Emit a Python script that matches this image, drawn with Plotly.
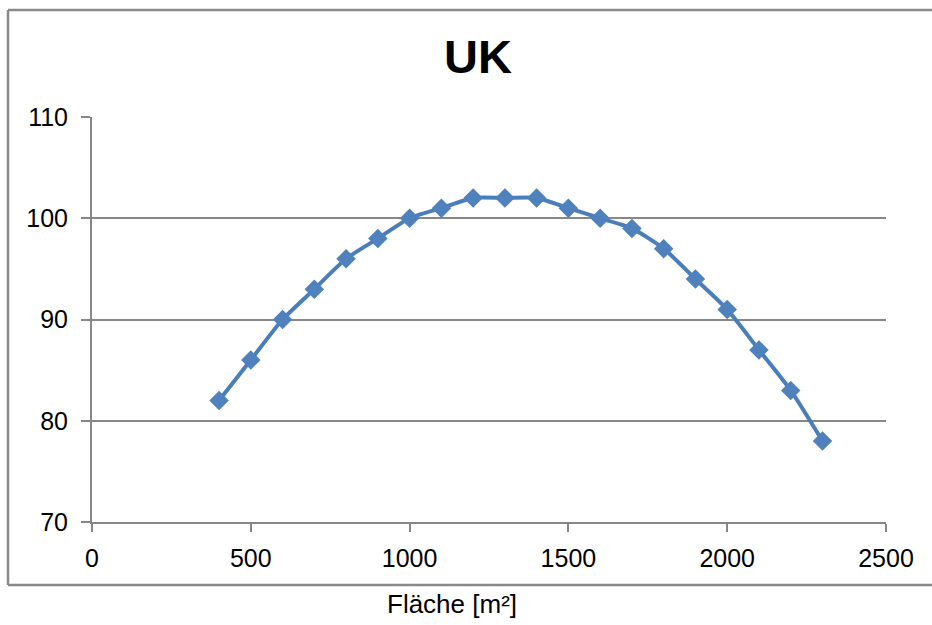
import plotly.graph_objects as go

# Data
flaeche = [400, 500, 600, 700, 800, 900, 1000, 1100, 1200, 1300,
           1400, 1500, 1600, 1700, 1800, 1900, 2000, 2100, 2200, 2300]
uk_werte = [82, 86, 90, 93, 96, 98, 100, 101, 102, 102,
            102, 101, 100, 99, 97, 94, 91, 87, 83, 78]
x_ticks = [0, 500, 1000, 1500, 2000, 2500]
y_ticks = [70, 80, 90, 100, 110]
title_text = "UK"
x_title = "Fläche [m²]"

W, H = 932, 625
L, R, T, B = 92, 886, 117, 522  # plot area in pixels
pw, ph = R - L, B - T

def px(x):
    return (x - L) / pw

def py(y):
    return (B - y) / ph

FONT = "Liberation Sans, Arial, sans-serif"
GRAY = "#878787"
BLUE = "#4A7EBB"
BORDER = dict(color="#8a8a8a", width=2.5)

fig = go.Figure()
fig.add_trace(go.Scatter(
    x=flaeche, y=uk_werte, mode="lines+markers",
    line=dict(color=BLUE, width=4, shape="spline", smoothing=0.6),
    marker=dict(symbol="diamond", size=15, color="#4F81BD",
                line=dict(color=BLUE, width=0)),
    showlegend=False,
))

fig.update_layout(
    width=W, height=H,
    margin=dict(l=L, r=W - R, t=T, b=H - B),
    paper_bgcolor="white", plot_bgcolor="white",
    font=dict(family=FONT, color="black", size=25),
    title=dict(text="<b>" + title_text + "</b>", x=478 / W, xref="container",
               y=1 - 57 / H, yref="container", xanchor="center", yanchor="middle",
               font=dict(family=FONT, size=47, color="black")),
    xaxis=dict(range=[0, 2500], tickvals=x_ticks, showgrid=False, zeroline=False,
               showline=True, linecolor=GRAY, linewidth=2,
               ticks="outside", ticklen=8, tickwidth=2, tickcolor=GRAY,
               tickfont=dict(size=25), ticklabelstandoff=5),
    yaxis=dict(range=[70, 110], tickvals=y_ticks, showgrid=True, gridcolor=GRAY,
               gridwidth=2, zeroline=False,
               showline=True, linecolor=GRAY, linewidth=2,
               ticks="outside", ticklen=9, tickwidth=2, tickcolor=GRAY,
               tickfont=dict(size=25), ticklabelstandoff=8),
    shapes=[
        dict(type="line", xref="paper", yref="paper",
             x0=px(8), x1=px(8), y0=py(585), y1=py(10), line=BORDER, layer="below"),
        dict(type="line", xref="paper", yref="paper",
             x0=px(8), x1=px(W + 5), y0=py(10), y1=py(10), line=BORDER, layer="below"),
        dict(type="line", xref="paper", yref="paper",
             x0=px(8), x1=px(W + 5), y0=py(585), y1=py(585), line=BORDER, layer="below"),
    ],
    annotations=[dict(text=x_title, xref="paper", yref="paper",
                      x=px(452), y=py(604), xanchor="center", yanchor="middle",
                      showarrow=False, font=dict(family=FONT, size=26, color="black"))],
)

fig.write_html("out.html")
